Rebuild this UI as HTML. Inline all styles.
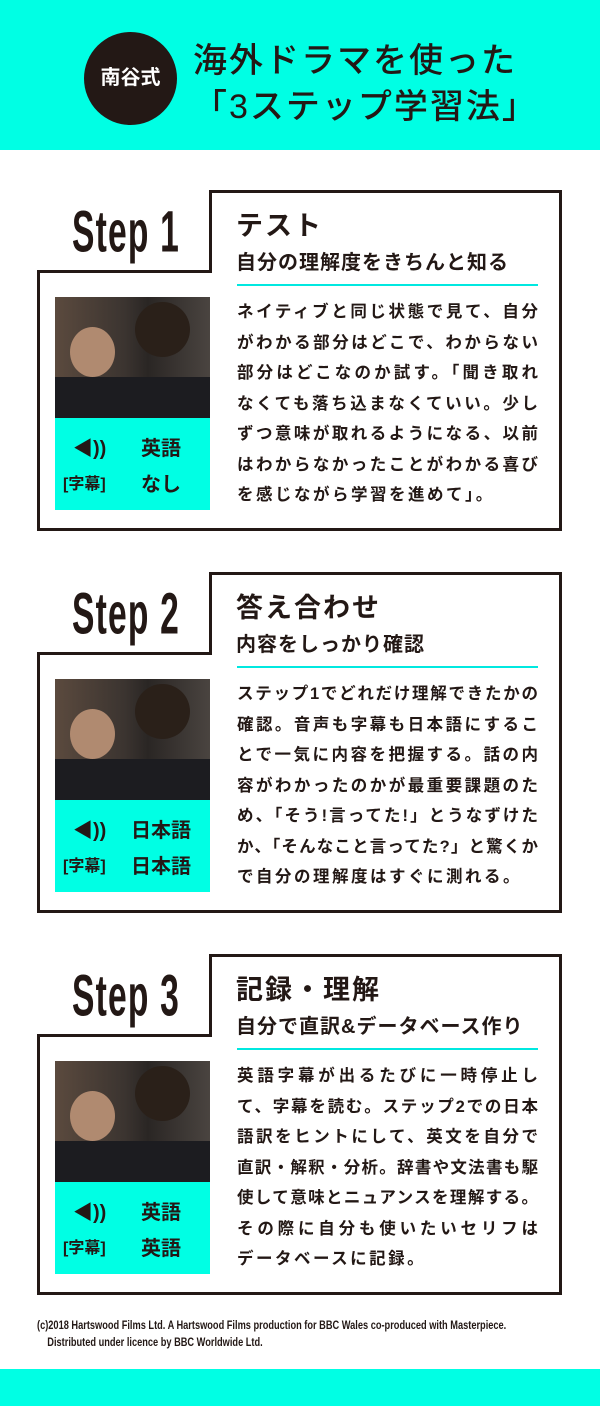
<!DOCTYPE html>
<html><head><meta charset="utf-8"><style>
*{margin:0;padding:0;box-sizing:border-box}
body{width:600px;height:1406px;position:relative;background:#fff;font-family:"Liberation Sans","Noto Sans CJK JP",sans-serif;color:#231815;overflow:hidden}
.abs{position:absolute}
.cy{background:#00ffe4}
.step{position:absolute;left:0;width:600px;height:360px}
.ln{position:absolute;background:#231815}
.lbl{position:absolute;left:0;top:10px;width:252px;text-align:center;font-family:"Liberation Sans",sans-serif;font-weight:bold;font-size:56px;transform:scale(.6,1.05);transform-origin:126px 0;letter-spacing:2px;line-height:60px;white-space:nowrap}
.h1{position:absolute;left:236px;top:14px;font-size:27px;font-weight:bold;letter-spacing:2px;white-space:nowrap}
.h2{position:absolute;left:236px;top:56px;font-size:20px;font-weight:bold;letter-spacing:1px;white-space:nowrap}
.bar{position:absolute;left:237px;top:94px;width:301px;height:2px;background:#00e8e0}
.body{position:absolute;left:237px;top:107px;width:301px;font-size:16.5px;font-weight:bold;line-height:30.5px}
.body div{text-align:justify;text-align-last:justify;white-space:nowrap}
.body div.last{text-align-last:left;letter-spacing:2.5px}
.photo{position:absolute;left:55px;top:107px;width:155px;height:121px;background:linear-gradient(90deg,#5b4a3e 0%,#3b3430 45%,#2a2624 60%,#4a4440 100%);overflow:hidden}
.panel{position:absolute;left:55px;top:228px;width:155px;height:92px;background:#00ffe4;font-weight:bold;font-size:20px}
</style></head><body>
<div class="abs cy" style="left:0;top:0;width:600px;height:150px"></div>
<div class="abs" style="left:84px;top:32px;width:93px;height:93px;border-radius:50%;background:#231815;color:#fff;font-size:20px;font-weight:bold;text-align:center;line-height:93px">南谷式</div>
<div class="abs" style="left:193px;top:38px;font-size:34px;font-weight:500;letter-spacing:2px;line-height:46px;white-space:nowrap">海外ドラマを使った<br>「3ステップ学習法」</div>

<div class="step" style="top:190px">
 <div class="ln" style="left:209px;top:0;width:353px;height:3px"></div>
 <div class="ln" style="left:209px;top:0;width:3px;height:83px"></div>
 <div class="ln" style="left:37px;top:80px;width:175px;height:3px"></div>
 <div class="ln" style="left:37px;top:80px;width:3px;height:261px"></div>
 <div class="ln" style="left:559px;top:0;width:3px;height:341px"></div>
 <div class="ln" style="left:37px;top:338px;width:525px;height:3px"></div>
 <div class="lbl">Step 1</div>
 <div class="h1">テスト</div>
 <div class="h2">自分の理解度をきちんと知る</div>
 <div class="bar"></div>
 <div class="photo"><div class="abs" style="left:80px;top:5px;width:55px;height:55px;border-radius:50%;background:#2a2019"></div><div class="abs" style="left:15px;top:30px;width:45px;height:50px;border-radius:50%;background:#b08a70"></div><div class="abs" style="left:0;top:80px;width:155px;height:41px;background:#1c1c20"></div></div>
 <div class="panel"><div class="abs" style="left:18px;top:14px">◀))</div><div class="abs" style="left:86px;top:14px">英語</div><div class="abs" style="left:8px;top:52px;font-size:16px">[字幕]</div><div class="abs" style="left:86px;top:50px">なし</div></div>
 <div class="body"><div>ネイティブと同じ状態で見て、自分</div><div>がわかる部分はどこで、わからない</div><div>部分はどこなのか試す。「聞き取れ</div><div>なくても落ち込まなくていい。少し</div><div>ずつ意味が取れるようになる、以前</div><div>はわからなかったことがわかる喜び</div><div class="last">を感じながら学習を進めて」。</div></div>
</div>

<div class="step" style="top:572px">
 <div class="ln" style="left:209px;top:0;width:353px;height:3px"></div>
 <div class="ln" style="left:209px;top:0;width:3px;height:83px"></div>
 <div class="ln" style="left:37px;top:80px;width:175px;height:3px"></div>
 <div class="ln" style="left:37px;top:80px;width:3px;height:261px"></div>
 <div class="ln" style="left:559px;top:0;width:3px;height:341px"></div>
 <div class="ln" style="left:37px;top:338px;width:525px;height:3px"></div>
 <div class="lbl">Step 2</div>
 <div class="h1">答え合わせ</div>
 <div class="h2">内容をしっかり確認</div>
 <div class="bar"></div>
 <div class="photo"><div class="abs" style="left:80px;top:5px;width:55px;height:55px;border-radius:50%;background:#2a2019"></div><div class="abs" style="left:15px;top:30px;width:45px;height:50px;border-radius:50%;background:#b08a70"></div><div class="abs" style="left:0;top:80px;width:155px;height:41px;background:#1c1c20"></div></div>
 <div class="panel"><div class="abs" style="left:18px;top:14px">◀))</div><div class="abs" style="left:76px;top:14px">日本語</div><div class="abs" style="left:8px;top:52px;font-size:16px">[字幕]</div><div class="abs" style="left:76px;top:50px">日本語</div></div>
 <div class="body"><div>ステップ1でどれだけ理解できたかの</div><div>確認。音声も字幕も日本語にするこ</div><div>とで一気に内容を把握する。話の内</div><div>容がわかったのかが最重要課題のた</div><div>め、「そう!言ってた!」とうなずけた</div><div>か、「そんなこと言ってた?」と驚くか</div><div class="last">で自分の理解度はすぐに測れる。</div></div>
</div>

<div class="step" style="top:954px">
 <div class="ln" style="left:209px;top:0;width:353px;height:3px"></div>
 <div class="ln" style="left:209px;top:0;width:3px;height:83px"></div>
 <div class="ln" style="left:37px;top:80px;width:175px;height:3px"></div>
 <div class="ln" style="left:37px;top:80px;width:3px;height:261px"></div>
 <div class="ln" style="left:559px;top:0;width:3px;height:341px"></div>
 <div class="ln" style="left:37px;top:338px;width:525px;height:3px"></div>
 <div class="lbl">Step 3</div>
 <div class="h1">記録・理解</div>
 <div class="h2">自分で直訳&amp;データベース作り</div>
 <div class="bar"></div>
 <div class="photo"><div class="abs" style="left:80px;top:5px;width:55px;height:55px;border-radius:50%;background:#2a2019"></div><div class="abs" style="left:15px;top:30px;width:45px;height:50px;border-radius:50%;background:#b08a70"></div><div class="abs" style="left:0;top:80px;width:155px;height:41px;background:#1c1c20"></div></div>
 <div class="panel"><div class="abs" style="left:18px;top:14px">◀))</div><div class="abs" style="left:86px;top:14px">英語</div><div class="abs" style="left:8px;top:52px;font-size:16px">[字幕]</div><div class="abs" style="left:86px;top:50px">英語</div></div>
 <div class="body"><div>英語字幕が出るたびに一時停止し</div><div>て、字幕を読む。ステップ2での日本</div><div>語訳をヒントにして、英文を自分で</div><div>直訳・解釈・分析。辞書や文法書も駆</div><div>使して意味とニュアンスを理解する。</div><div>その際に自分も使いたいセリフは</div><div class="last">データベースに記録。</div></div>
</div>

<div class="abs" style="left:37px;top:1317px;font-family:'Liberation Sans',sans-serif;font-weight:bold;font-size:12px;line-height:17px;white-space:nowrap;transform:scaleX(.77);transform-origin:0 0">(c)2018 Hartswood Films Ltd. A Hartswood Films production for BBC Wales co-produced with Masterpiece.<br>&nbsp;&nbsp;&nbsp;&nbsp;Distributed under licence by BBC Worldwide Ltd.</div>
<div class="abs cy" style="left:0;top:1369px;width:600px;height:37px"></div>
</body></html>
